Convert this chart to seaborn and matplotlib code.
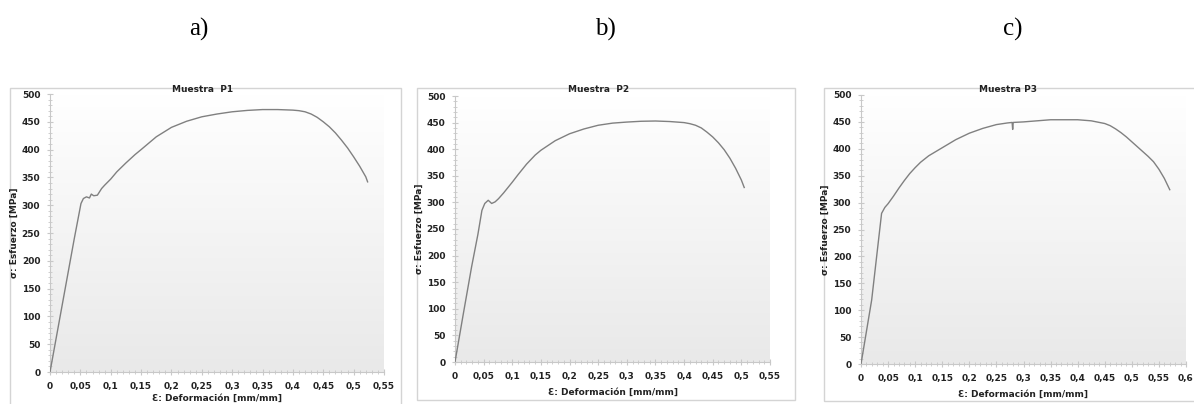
import numpy as np
import pandas as pd
import matplotlib
matplotlib.use("Agg")
import matplotlib.pyplot as plt
from matplotlib.patches import Rectangle
from matplotlib.ticker import MultipleLocator, FuncFormatter
import seaborn as sns

# strain / stress readings taken from the three tensile test curves
strain_p1 = [0, 0.01, 0.02, 0.03, 0.04, 0.051, 0.055, 0.06, 0.065, 0.068, 0.072, 0.078,
             0.085, 0.09, 0.1, 0.11, 0.125, 0.14, 0.15, 0.175, 0.2, 0.225, 0.25, 0.275,
             0.3, 0.325, 0.35, 0.375, 0.4, 0.41, 0.42, 0.43, 0.44, 0.45, 0.46, 0.47,
             0.48, 0.49, 0.5, 0.51, 0.52, 0.523]
stress_p1 = [0, 60, 120, 180, 240, 303, 312, 315, 313, 320, 317, 318,
             330, 336, 347, 360, 376, 391, 400, 423, 440, 451, 459, 464,
             468, 470.5, 472, 472, 471, 470, 468, 464, 458, 450, 441, 430,
             417, 403, 387, 370, 351, 342]

strain_p2 = [0, 0.0146, 0.029, 0.04, 0.047, 0.052, 0.058, 0.064, 0.07, 0.076, 0.085,
             0.1, 0.11, 0.125, 0.14, 0.15, 0.175, 0.2, 0.225, 0.25, 0.275, 0.3, 0.325,
             0.35, 0.375, 0.4, 0.41, 0.42, 0.43, 0.44, 0.45, 0.46, 0.47, 0.48, 0.49,
             0.5, 0.505]
stress_p2 = [0, 91, 179, 240, 285, 298, 304, 298, 301, 307, 318,
             338, 352, 372, 389, 398, 416, 429, 438, 445, 449, 451, 452.5,
             453, 452, 450, 448, 445, 440, 432, 423, 412, 399, 383, 364,
             342, 328]

strain_p3 = [0, 0.0197, 0.038, 0.044, 0.05, 0.06, 0.07, 0.08, 0.09, 0.1, 0.11, 0.125,
             0.14, 0.15, 0.175, 0.2, 0.225, 0.25, 0.27, 0.279, 0.28, 0.281, 0.3, 0.325,
             0.35, 0.375, 0.4, 0.425, 0.45, 0.46, 0.47, 0.48, 0.49, 0.5, 0.51, 0.52,
             0.53, 0.54, 0.55, 0.56, 0.57]
stress_p3 = [0, 119, 280, 291, 298, 312, 327, 341, 354, 365, 375, 387,
             396, 402, 417, 429, 438, 445, 448, 449, 436, 449, 450, 452,
             454, 454, 454, 452, 447, 443, 437, 430, 422, 413, 404, 395,
             386, 376, 362, 345, 324]

samples = ["Muestra  P1", "Muestra  P2", "Muestra P3"]
letters = ["a)", "b)", "c)"]
xmax = [0.55, 0.55, 0.6]

W, H = 1194, 404
fig = plt.figure(figsize=(W / 100, H / 100), dpi=100)

# pixel boxes: (left, top, right, bottom) of plot areas and panel frames
axes_px = [(50, 94, 384, 372), (455, 96, 770, 362), (861, 95, 1186, 364)]
frame_px = [(10, 88, 401, 406), (417, 88, 795, 400), (824, 88, 1198, 401)]
letter_x = [199, 605, 1013]
title_x = [203, 599, 1008]
xlabel_pad = [2, 5, 5]

curves = [(strain_p1, stress_p1), (strain_p2, stress_p2), (strain_p3, stress_p3)]

comma = FuncFormatter(lambda v, p: ("%g" % round(v, 3)).replace(".", ","))
cmap = matplotlib.colors.LinearSegmentedColormap.from_list("g", ["#e9e9e9", "#ffffff"])

for i, (xs, ys) in enumerate(curves):
    fl, ft, fr, fb = frame_px[i]
    fig.patches.append(Rectangle((fl / W, 1 - fb / H), (fr - fl) / W, (fb - ft) / H,
                                 transform=fig.transFigure, facecolor="none",
                                 edgecolor="#d4d4d4", lw=1, zorder=-1))
    l, t, r, b = axes_px[i]
    ax = fig.add_axes([l / W, 1 - b / H, (r - l) / W, (b - t) / H])
    ax.set_facecolor("none")

    # vertical gradient background: grey at bottom, white at top
    grad = np.linspace(0, 1, 256).reshape(-1, 1)
    ax.imshow(grad, cmap=cmap, aspect="auto",
              extent=[0, xmax[i], 0, 500], origin="lower", zorder=0)

    df = pd.DataFrame({"strain": xs, "stress": ys})
    sns.lineplot(data=df, x="strain", y="stress", sort=False, color="#808080",
                 lw=1.0, ax=ax, zorder=3)

    ax.set_xlim(0, xmax[i])
    ax.set_ylim(0, 500)
    ax.xaxis.set_major_locator(MultipleLocator(0.05))
    ax.xaxis.set_minor_locator(MultipleLocator(0.01))
    ax.yaxis.set_major_locator(MultipleLocator(50))
    ax.yaxis.set_minor_locator(MultipleLocator(10))
    ax.xaxis.set_major_formatter(comma)
    for s in ["top", "right"]:
        ax.spines[s].set_visible(False)
    for s in ["left", "bottom"]:
        ax.spines[s].set_color("#c8c8c8")
        ax.spines[s].set_linewidth(0.8)
    ax.tick_params(which="major", length=4, color="#c8c8c8", width=0.8, pad=5,
                   labelsize=6.5, labelcolor="#222222", direction="inout")
    ax.tick_params(which="minor", length=2.5, color="#c8c8c8", width=0.6, direction="inout")
    for lab in ax.get_xticklabels() + ax.get_yticklabels():
        lab.set_fontweight("bold")
    ax.set_xlabel("Ɛ: Deformación [mm/mm]", fontsize=6.5, fontweight="bold",
                  color="#222222", labelpad=xlabel_pad[i])
    ax.set_ylabel("σ: Esfuerzo [MPa]", fontsize=6.5, fontweight="bold",
                  color="#222222", labelpad=2)

    fig.text(title_x[i] / W, 1 - 90 / H, samples[i], ha="center", va="center",
             fontsize=6.5, fontweight="bold", color="#222222")
    fig.text(letter_x[i] / W, 1 - 29 / H, letters[i], ha="center", va="center",
             fontsize=18, family="Liberation Serif")

fig.savefig("out.png", dpi=100)
